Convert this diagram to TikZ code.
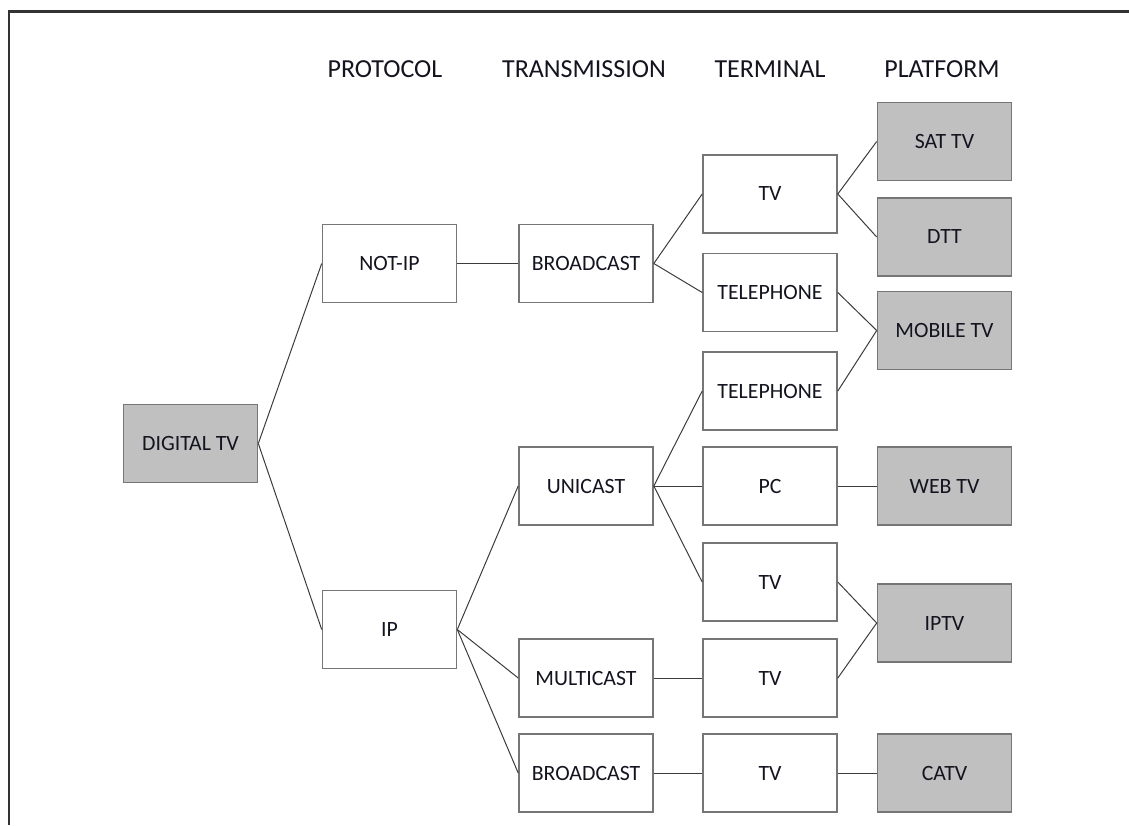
\documentclass[tikz,border=0pt]{standalone}
\usepackage{fontspec}
\setmainfont{Carlito}
\definecolor{boxline}{HTML}{767676}
\definecolor{boxfill}{HTML}{C0C0C0}
\definecolor{linkcol}{HTML}{3C3C3C}
\definecolor{framecol}{HTML}{333333}
\definecolor{txt}{HTML}{141420}
\begin{document}
\begin{tikzpicture}[x=1pt,y=-1pt,
  box/.style={draw=boxline,line width=1.6pt,minimum width=134pt,minimum height=78pt,
    inner sep=0pt,font=\fontsize{21.8}{22}\selectfont,text=txt},
  plain/.style={box,fill=white},
  shaded/.style={box,fill=boxfill},
  head/.style={inner sep=0pt,font=\fontsize{26}{26}\selectfont,text=txt},
  link/.style={draw=linkcol,line width=1pt}]
\useasboundingbox (0,0) rectangle (1129,825);
% partial frame: top and left edges
\draw[framecol,line width=2.2pt] (9,825) -- (9,11.5) -- (1129,11.5);

% column headings
\node[head] (hProt)  at (385,69) {PROTOCOL};
\node[head] (hTrans) at (584,69) {TRANSMISSION};
\node[head] (hTerm)  at (770,69) {TERMINAL};
\node[head] (hPlat)  at (942,69) {PLATFORM};

% root
\node[shaded] (dtv) at (190.5,443.5) {DIGITAL TV};

% protocol
\node[plain] (notip) at (389.5,263.5) {NOT-IP};
\node[plain] (ip)    at (389.5,629.5) {IP};

% transmission
\node[plain] (bc1)   at (586,263.5) {BROADCAST};
\node[plain] (uni)   at (586,486) {UNICAST};
\node[plain] (multi) at (586,678) {MULTICAST};
\node[plain] (bc2)   at (586,773) {BROADCAST};

% terminal
\node[plain] (tv1)  at (770,194) {TV};
\node[plain] (tel1) at (770,292.5) {TELEPHONE};
\node[plain] (tel2) at (770,391) {TELEPHONE};
\node[plain] (pc)   at (770,486) {PC};
\node[plain] (tv2)  at (770,582) {TV};
\node[plain] (tv3)  at (770,678) {TV};
\node[plain] (tv4)  at (770,773) {TV};

% platform
\node[shaded] (sat)  at (944.5,141.5) {SAT TV};
\node[shaded] (dtt)  at (944.5,237) {DTT};
\node[shaded] (mob)  at (944.5,330.5) {MOBILE TV};
\node[shaded] (web)  at (944.5,486) {WEB TV};
\node[shaded] (iptv) at (944.5,623) {IPTV};
\node[shaded] (catv) at (944.5,773) {CATV};

% connectors
\draw[link] (dtv.east) -- (notip.west);
\draw[link] (dtv.east) -- (ip.west);
\draw[link] (notip.east) -- (bc1.west);
\draw[link] (bc1.east) -- (tv1.west);
\draw[link] (bc1.east) -- (tel1.west);
\draw[link] (tv1.east) -- (sat.west);
\draw[link] (tv1.east) -- (dtt.west);
\draw[link] (tel1.east) -- (mob.west);
\draw[link] (tel2.east) -- (mob.west);
\draw[link] (ip.east) -- (uni.west);
\draw[link] (ip.east) -- (multi.west);
\draw[link] (ip.east) -- (bc2.west);
\draw[link] (uni.east) -- (tel2.west);
\draw[link] (uni.east) -- (pc.west);
\draw[link] (uni.east) -- (tv2.west);
\draw[link] (pc.east) -- (web.west);
\draw[link] (tv2.east) -- (iptv.west);
\draw[link] (multi.east) -- (tv3.west);
\draw[link] (tv3.east) -- (iptv.west);
\draw[link] (bc2.east) -- (tv4.west);
\draw[link] (tv4.east) -- (catv.west);
\end{tikzpicture}
\end{document}
